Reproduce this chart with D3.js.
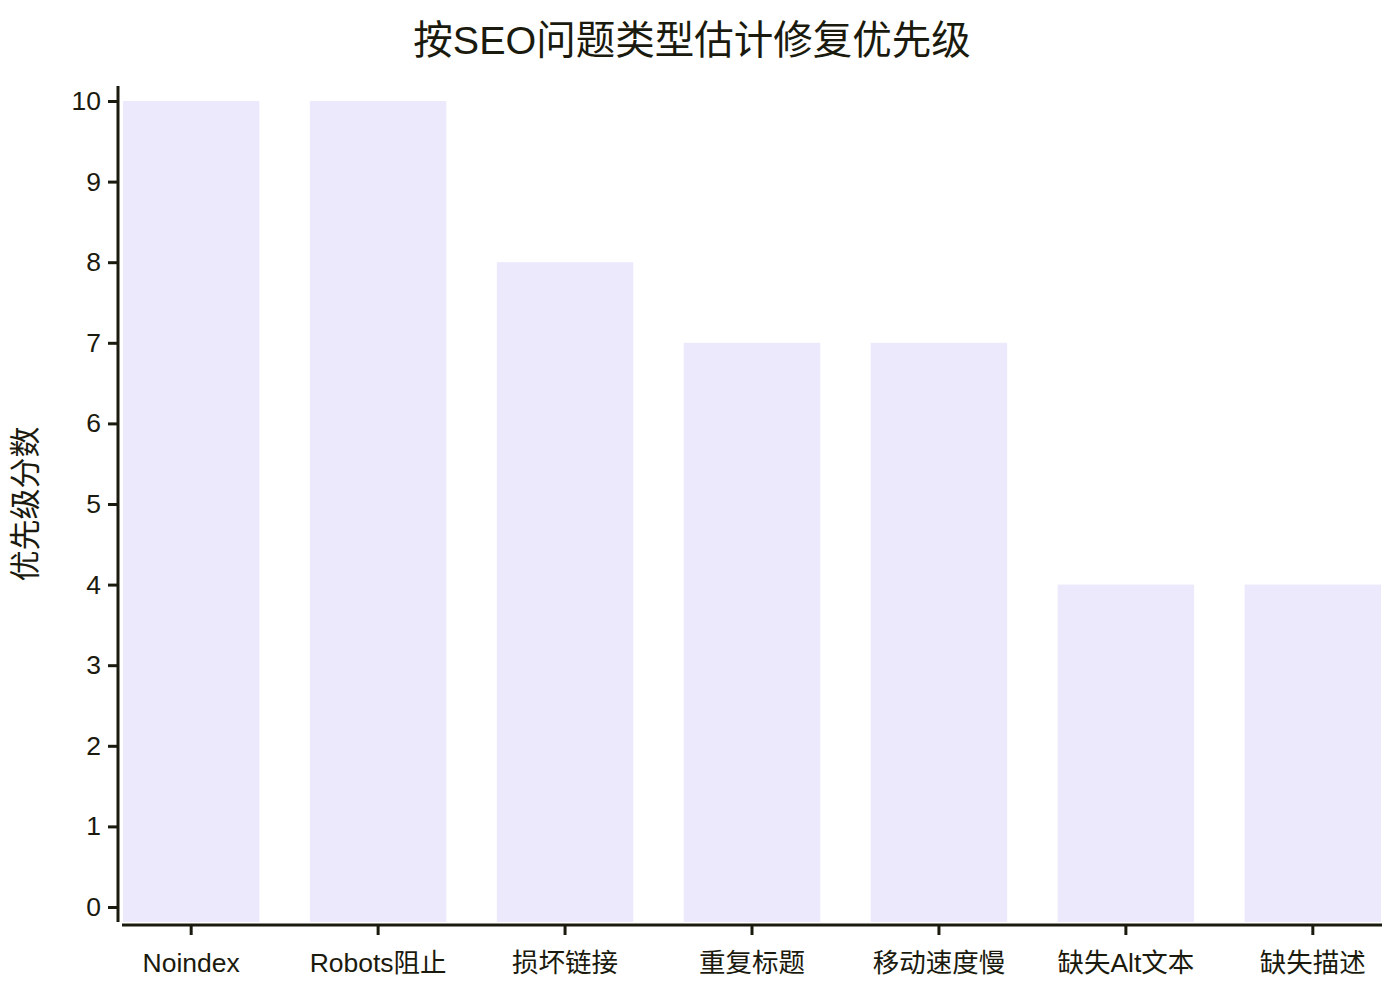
<!DOCTYPE html>
<html>
<head>
<meta charset="utf-8">
<script src="https://cdn.jsdelivr.net/npm/d3@7"></script>
<style>
  body { margin: 0; background: #fff; }
  text { font-family: "Liberation Sans", "Noto Sans CJK SC", sans-serif; fill: #1b1a0e; }
</style>
</head>
<body>
<svg id="drawing_region"></svg>
<script>
// データ
const categories = ['Noindex', 'Robots阻止', '损坏链接', '重复标题', '移动速度慢', '缺失Alt文本', '缺失描述'];
const scores = [10, 10, 8, 7, 7, 4, 4];
const yTicks = [0, 1, 2, 3, 4, 5, 6, 7, 8, 9, 10];
const titleText = '按SEO问题类型估计修复优先级';
const yLabelText = '优先级分数';

const width = 1400, height = 1000;
const margin = {top: 86, right: 18, bottom: 78, left: 122};
const inner_width = width - margin.left - margin.right;
const inner_height = height - margin.top - margin.bottom;
const ink = '#1b1a0e';
const font = '"Liberation Sans", "Noto Sans CJK SC", sans-serif';

const svg = d3.select('#drawing_region')
    .attr('width', width)
    .attr('height', height);

const chart = svg.append('g')
    .attr('transform', `translate(${margin.left}, ${margin.top})`);

const xscale = d3.scaleBand()
    .domain(categories)
    .range([0, inner_width])
    .paddingInner(0.27)
    .paddingOuter(0.005);

// y=0 sits a little above the plot bottom
const yscale = d3.scaleLinear()
    .domain([0, 10])
    .range([inner_height - 15, 15]);

// 棒
chart.selectAll('rect')
    .data(categories)
    .enter()
    .append('rect')
    .attr('x', d => xscale(d))
    .attr('y', (d, i) => yscale(scores[i]))
    .attr('width', xscale.bandwidth())
    .attr('height', (d, i) => inner_height - yscale(scores[i]))
    .attr('fill', '#ebe9fb');

// 軸
const yaxis = d3.axisLeft(yscale).tickValues(yTicks).tickSize(10).tickPadding(7).tickSizeOuter(0);
const xaxis = d3.axisBottom(xscale).tickSize(10).tickPadding(18).tickSizeOuter(0);

const ygroup = chart.append('g')
    .attr('transform', 'translate(-4, 0)')
    .call(yaxis);
const xgroup = chart.append('g')
    .attr('transform', `translate(0, ${inner_height + 3})`)
    .call(xaxis);

ygroup.select('.domain').attr('d', `M0,0V${inner_height}`);
xgroup.select('.domain').attr('d', `M0,0H${inner_width}`);

[ygroup, xgroup].forEach(g => {
    g.select('.domain').attr('stroke', ink).attr('stroke-width', 3);
    g.selectAll('.tick line').attr('stroke', ink).attr('stroke-width', 3);
    g.selectAll('.tick text')
        .attr('font-size', 26.5)
        .attr('font-family', font)
        .attr('fill', ink);
});

// タイトル
svg.append('text')
    .attr('x', 692)
    .attr('y', 54)
    .attr('text-anchor', 'middle')
    .attr('font-size', 39.5)
    .text(titleText);

// Y軸ラベル
svg.append('text')
    .attr('transform', 'translate(36, 504) rotate(-90)')
    .attr('text-anchor', 'middle')
    .attr('font-size', 31)
    .text(yLabelText);
</script>
</body>
</html>
